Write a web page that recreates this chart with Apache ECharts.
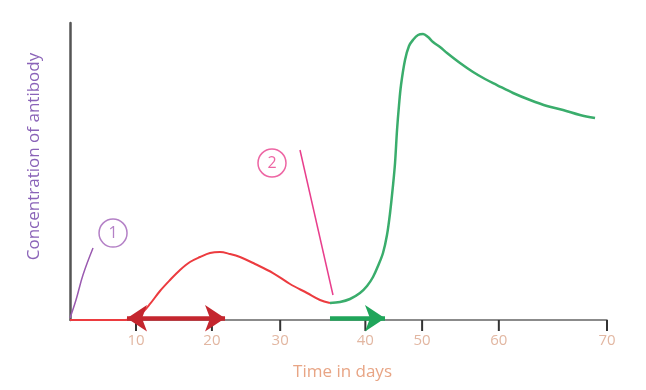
<!DOCTYPE html>
<html><head><meta charset="utf-8">
<script src="https://cdn.jsdelivr.net/npm/echarts@6/dist/echarts.min.js"></script>
<style>html,body{margin:0;padding:0;background:#fff}#c{width:646px;height:390px}</style>
</head><body><div id="c"></div>
<script>
// Tick labels and where they sit on the (uniform) time axis
var tickLabels = ['10','20','30','40','50','60','70'];
var tickPos = [8.6, 18.5, 27.4, 38.5, 45.9, 55.9, 70];

// Primary response (red) [time, concentration]
var primaryResponse = [
  [0,0],[7.17,0],[8.47,0.67],[9.52,2.69],[10.43,5.39],[11.73,9.76],[13.04,13.47],[14.34,16.84],
  [15.64,19.53],[16.95,21.21],[18.25,22.56],[19.55,22.9],[20.86,22.22],[22.16,21.21],[24.12,18.86],
  [26.46,15.82],[28.68,12.12],[30.90,9.09],[32.59,6.73],[33.89,5.72]
];
// Secondary response (green)
var secondaryResponse = [
  [33.89,5.72],[35.20,6.06],[36.50,7.07],[37.80,9.09],[38.72,11.45],[39.50,14.48],[40.15,18.18],
  [40.80,22.56],[41.32,28.62],[41.72,36.03],[42.11,45.45],[42.37,52.86],[42.63,63.97],[42.89,72.39],
  [43.15,79.12],[43.67,87.54],[44.19,92.26],[44.71,94.28],[45.37,95.96],[46.02,96.30],[46.67,95.29],
  [47.32,93.60],[48.23,91.92],[49.15,89.90],[50.84,86.53],[52.54,83.50],[54.10,81.14],[55.66,79.12],
  [57.75,76.43],[59.97,74.07],[62.18,72.05],[64.27,70.71],[66.48,69.02],[68.44,68.01]
];
// Annotation pointer lines
var pointer1 = [[0,0.67],[0.78,6.73],[1.69,15.15],[3.0,24.24]];
var pointer2 = [[29.98,57.24],[34.28,8.42]];
// Numbered markers
var marker1 = [[5.61,29.29,'1']];
var marker2 = [[26.33,52.86,'2']];
// Arrows along the time axis
var redArrow = [[7.43,0.6],[20.21,0.6]];
var greenArrow = [[33.89,0.6],[41.06,0.6]];

var chart = echarts.init(document.getElementById('c'));
var font = '"Open Sans", sans-serif';
chart.setOption({
  animation: false,
  grid: {left: 70, right: 39, top: 23, bottom: 70},
  xAxis: {
    type: 'value', min: 0, max: 70,
    name: 'Time in days', nameLocation: 'middle', nameGap: 44,
    nameTextStyle: {color: '#e8a585', fontSize: 17, fontFamily: font, padding: [0,0,0,8]},
    axisLine: {lineStyle: {color: '#666', width: 1.5}},
    axisTick: {show: false},
    axisLabel: {
      customValues: tickPos, color: '#e2b7a2', fontSize: 15, fontFamily: font, margin: 13,
      formatter: function (v) {
        for (var i = 0; i < tickPos.length; i++) if (Math.abs(tickPos[i] - v) < 1e-6) return tickLabels[i];
        return '';
      }
    },
    splitLine: {show: false}
  },
  yAxis: {
    type: 'value', min: 0, max: 100,
    name: 'Concentration of antibody', nameLocation: 'middle', nameGap: 27, nameRotate: 90,
    nameTextStyle: {color: '#8a63b8', fontSize: 17, fontFamily: font, padding: [0,0,0,30]},
    axisLine: {show: true, lineStyle: {color: '#555', width: 2.5}},
    axisTick: {show: false}, axisLabel: {show: false}, splitLine: {show: false}
  },
  series: [
    {type: 'custom', clip: false, z: 5,
     data: tickPos.map(function (t) { return [t, 0]; }),
     renderItem: function (params, api) {
       var p = api.coord([api.value(0), api.value(1)]);
       return {type: 'line', shape: {x1: p[0], y1: p[1], x2: p[0], y2: p[1] + 11},
               style: {stroke: '#333', lineWidth: 2}};
     }},
    {type: 'line', data: primaryResponse, smooth: 0.35, showSymbol: false,
     lineStyle: {color: '#ec3b3f', width: 2}},
    {type: 'line', data: secondaryResponse, smooth: 0.35, showSymbol: false,
     lineStyle: {color: '#3aad6c', width: 2.5}},
    {type: 'line', data: pointer1, smooth: 0.4, showSymbol: false,
     lineStyle: {color: '#9a5ab0', width: 1.5}},
    {type: 'line', data: pointer2, showSymbol: false,
     lineStyle: {color: '#e83e8c', width: 1.5}},
    {type: 'scatter', data: marker1, symbol: 'circle', symbolSize: 28,
     itemStyle: {color: '#fff', borderColor: '#a060b8', borderWidth: 1.5},
     label: {show: true, position: 'inside', formatter: function (p) { return p.data[2]; },
       color: '#a060b8', fontSize: 16, fontFamily: font}},
    {type: 'scatter', data: marker2, symbol: 'circle', symbolSize: 28,
     itemStyle: {color: '#fff', borderColor: '#e83e8c', borderWidth: 1.5},
     label: {show: true, position: 'inside', formatter: function (p) { return p.data[2]; },
       color: '#e83e8c', fontSize: 16, fontFamily: font}},
    {type: 'lines', coordinateSystem: 'cartesian2d', clip: false, symbol: ['arrow','arrow'], symbolSize: 20,
     data: [{coords: redArrow}], lineStyle: {color: '#c4262e', width: 4.5, opacity: 1}, z: 6},
    {type: 'lines', coordinateSystem: 'cartesian2d', clip: false, symbol: ['none','arrow'], symbolSize: 20,
     data: [{coords: greenArrow}], lineStyle: {color: '#1fa55a', width: 4.5, opacity: 1}, z: 6}
  ]
});
</script></body></html>
